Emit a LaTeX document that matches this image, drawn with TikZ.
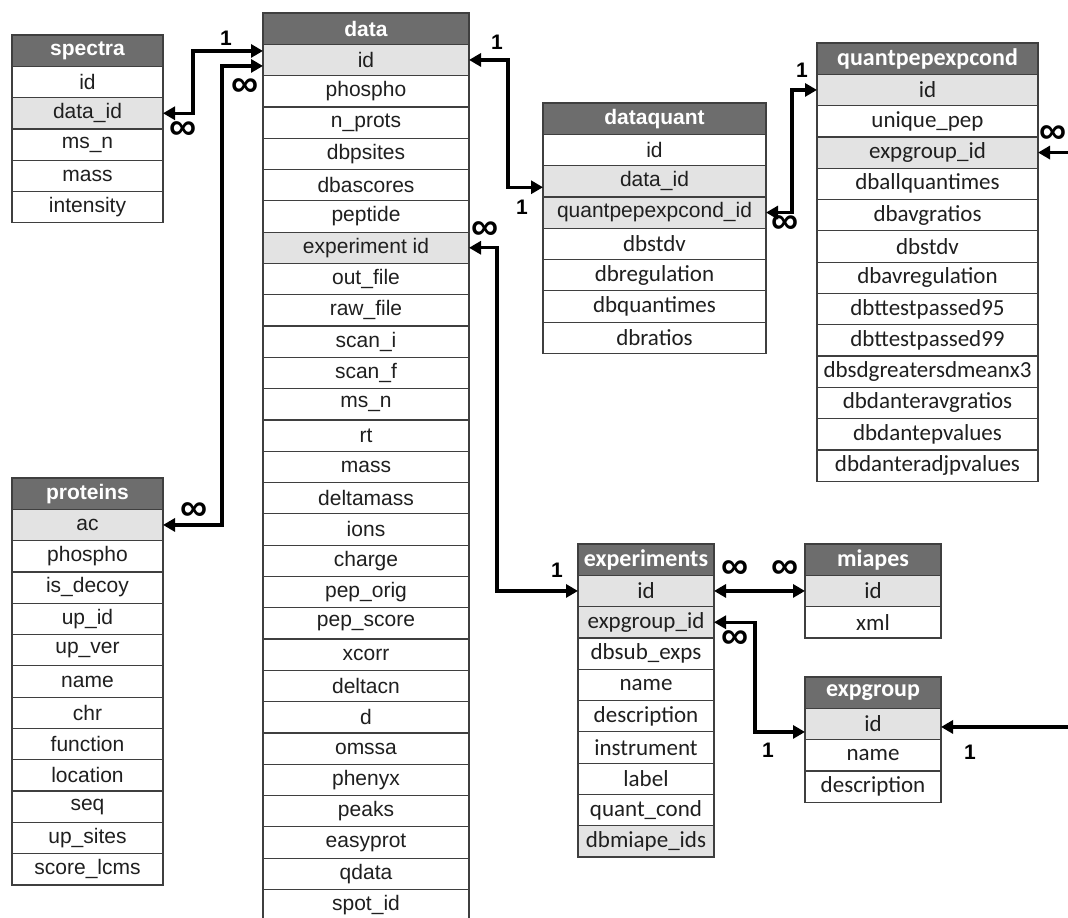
\documentclass[tikz,border=0pt]{standalone}
\usepackage{fontspec}
\setmainfont{Liberation Sans}
\newfontfamily\calibrifont{Carlito}
\usepackage{xcolor}
\usepackage{tikz}
\usetikzlibrary{arrows.meta}

\definecolor{headgray}{HTML}{6D6D6D}
\definecolor{keygray}{HTML}{E3E3E3}
\definecolor{linegray}{HTML}{3F3F3F}

\begin{document}
\begin{tikzpicture}[x=1pt, y=1pt, yscale=-1, inner sep=0pt, outer sep=0pt,
    >={Triangle[length=12pt,width=13pt]},
    cell/.style={draw=linegray, line width=1.2pt, minimum height=31.3pt, anchor=north west, text=black!88, font=\fontsize{21}{21}\selectfont},
    fieldrow/.style={cell, fill=white},
    keyrow/.style={cell, fill=keygray},
    headrow/.style={cell, fill=headgray, text=white, font=\fontsize{21}{21}\selectfont\bfseries},
    cal/.style={font=\fontsize{23}{23}\selectfont\calibrifont},
    calrow/.style={fieldrow, cal},
    calkey/.style={keyrow, cal},
    calhead/.style={headrow, font=\fontsize{24}{24}\selectfont\calibrifont\bfseries},
    link/.style={line width=3.2pt, <->},
    cardone/.style={font=\fontsize{21}{21}\selectfont\bfseries},
    cardmany/.style={font=\fontsize{38}{38}\selectfont\bfseries}]
  \fill[white, use as bounding box] (0,0) rectangle (1068,918);
  \clip (0,0) rectangle (1068,918);
  \node[headrow, minimum width=151] (spectra) at (12,35) {spectra};
  \foreach \f/\s [count=\i] in {id/fieldrow, data\_id/keyrow, ms\_n/fieldrow, mass/fieldrow, intensity/fieldrow}
    \node[\s, minimum width=151] (spectra-\i) at (12,35+31.3*\i) {\f};
  \node[headrow, minimum width=206] (data) at (263,13) {data};
  \foreach \f/\s [count=\i] in {id/keyrow, phospho/fieldrow, n\_prots/fieldrow, dbpsites/fieldrow, dbascores/fieldrow, peptide/fieldrow, experiment id/keyrow, out\_file/fieldrow, raw\_file/fieldrow, scan\_i/fieldrow, scan\_f/fieldrow, ms\_n/fieldrow, rt/fieldrow, mass/fieldrow, deltamass/fieldrow, ions/fieldrow, charge/fieldrow, pep\_orig/fieldrow, pep\_score/fieldrow, xcorr/fieldrow, deltacn/fieldrow, d/fieldrow, omssa/fieldrow, phenyx/fieldrow, peaks/fieldrow, easyprot/fieldrow, qdata/fieldrow, spot\_id/fieldrow}
    \node[\s, minimum width=206] (data-\i) at (263,13+31.3*\i) {\f};
  \node[headrow, minimum width=151] (proteins) at (12,478) {proteins};
  \foreach \f/\s [count=\i] in {ac/keyrow, phospho/fieldrow, is\_decoy/fieldrow, up\_id/fieldrow, up\_ver/fieldrow, name/fieldrow, chr/fieldrow, function/fieldrow, location/fieldrow, seq/fieldrow, up\_sites/fieldrow, score\_lcms/fieldrow}
    \node[\s, minimum width=151] (proteins-\i) at (12,478+31.3*\i) {\f};
  \node[headrow, minimum width=223] (dataquant) at (543,103) {dataquant};
  \foreach \f/\s [count=\i] in {id/fieldrow, data\_id/keyrow, quantpepexpcond\_id/keyrow, dbstdv/calrow, dbregulation/calrow, dbquantimes/calrow, dbratios/calrow}
    \node[\s, minimum width=223] (dataquant-\i) at (543,103+31.3*\i) {\f};
  \node[calhead, minimum width=221] (quantpepexpcond) at (817,43) {quantpepexpcond};
  \foreach \f/\s [count=\i] in {id/calkey, unique\_pep/calrow, expgroup\_id/calkey, dballquantimes/calrow, dbavgratios/calrow, dbstdv/calrow, dbavregulation/calrow, dbttestpassed95/calrow, dbttestpassed99/calrow, dbsdgreatersdmeanx3/calrow, dbdanteravgratios/calrow, dbdantepvalues/calrow, dbdanteradjpvalues/calrow}
    \node[\s, minimum width=221] (quantpepexpcond-\i) at (817,43+31.3*\i) {\f};
  \node[calhead, minimum width=136] (experiments) at (578,544) {experiments};
  \foreach \f/\s [count=\i] in {id/calkey, expgroup\_id/calkey, dbsub\_exps/calrow, name/calrow, description/calrow, instrument/calrow, label/calrow, quant\_cond/calrow, dbmiape\_ids/calkey}
    \node[\s, minimum width=136] (experiments-\i) at (578,544+31.3*\i) {\f};
  \node[calhead, minimum width=136] (miapes) at (805,544) {miapes};
  \foreach \f/\s [count=\i] in {id/calkey, xml/calrow}
    \node[\s, minimum width=136] (miapes-\i) at (805,544+31.3*\i) {\f};
  \node[calhead, minimum width=136] (expgroup) at (805,677) {expgroup};
  \foreach \f/\s [count=\i] in {id/calkey, name/calrow, description/calrow}
    \node[\s, minimum width=136] (expgroup-\i) at (805,677+31.3*\i) {\f};
  \draw[link] (spectra-2.east) -- ++(30,0) |- ([yshift=-9pt]data-1.west);
  \draw[link] (proteins-1.east) -- ++(59,0) |- ([yshift=6pt]data-1.west);
  \draw[link] (data-1.east) -- ++(39,0) |- ([yshift=6pt]dataquant-2.west);
  \draw[link] (dataquant-3.east) -- ++(26,0) |- (quantpepexpcond-1.west);
  \draw[link] (data-7.east) -- ++(28,0) |- (experiments-1.west);
  \draw[link] (experiments-1.east) -- (miapes-1.west);
  \draw[link] (experiments-2.east) -- ++(41,0) |- ([yshift=8pt]expgroup-1.west);
  \draw[link] (quantpepexpcond-3.east) -- ++(50,0) |- ([yshift=3pt]expgroup-1.east);
  \node[cardone] (card-a) at (226,38) {1};
  \node[cardmany] (card-b) at (183,131) {∞};
  \node[cardmany] (card-c) at (245,88) {∞};
  \node[cardmany] (card-d) at (194,512) {∞};
  \node[cardone] (card-e) at (497,42) {1};
  \node[cardone] (card-f) at (522,207) {1};
  \node[cardmany] (card-g) at (485,231) {∞};
  \node[cardone] (card-h) at (802,70) {1};
  \node[cardmany] (card-i) at (785,225) {∞};
  \node[cardmany] (card-j) at (1053,135) {∞};
  \node[cardone] (card-k) at (557,570) {1};
  \node[cardmany] (card-l) at (735,570) {∞};
  \node[cardmany] (card-m) at (785,570) {∞};
  \node[cardmany] (card-n) at (735,640) {∞};
  \node[cardone] (card-o) at (768,750) {1};
  \node[cardone] (card-p) at (970,752) {1};
\end{tikzpicture}
\end{document}
